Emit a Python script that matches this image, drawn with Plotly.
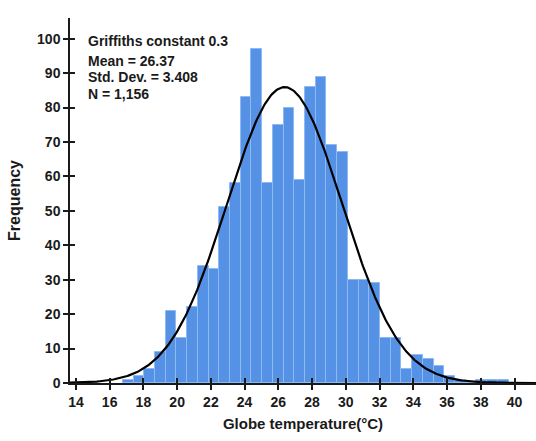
import numpy as np
import plotly.graph_objects as go

# Histogram data
bin_start = 16.78
bin_width = 0.635
counts = [1, 2, 4, 9, 21, 13, 22, 34, 33, 51,
          58, 83, 97, 58, 75, 80, 59, 86, 89, 69,
          67, 30, 30, 29, 13, 13, 4, 8, 7, 5,
          2, 1, 0, 1, 1, 1]

mean_val = 26.37
std_val = 3.408
n_val = 1156

x_ticks = list(range(14, 41, 2))
y_ticks = list(range(0, 101, 10))

centers = [bin_start + (i + 0.5) * bin_width for i in range(len(counts))]

xr = [13.65, 41.27]
yr = [0, 106]

xc = np.linspace(xr[0], xr[1], 400)
yc = n_val * bin_width / (std_val * np.sqrt(2 * np.pi)) * np.exp(-0.5 * ((xc - mean_val) / std_val) ** 2)

FONT = "Arial, Liberation Sans, sans-serif"
INK = "#1a1a1a"

fig = go.Figure()
fig.add_trace(go.Bar(x=centers, y=counts, width=[bin_width] * len(counts),
                     marker=dict(color="#5592e6", line=dict(color="#8dbaf3", width=1)),
                     showlegend=False))
fig.add_trace(go.Scatter(x=xc, y=yc, mode="lines", line=dict(color="black", width=2.2),
                         showlegend=False, cliponaxis=False))
# helper trace so the overlay axes (inner tick halves) render
fig.add_trace(go.Scatter(x=[xr[0]], y=[0], xaxis="x2", yaxis="y2", mode="markers",
                         marker=dict(opacity=0), showlegend=False, hoverinfo="skip"))

fig.update_layout(
    width=536, height=441,
    margin=dict(l=70, r=0, t=18, b=58),
    paper_bgcolor="white", plot_bgcolor="white",
    bargap=0,
    xaxis=dict(range=xr, tickvals=x_ticks, ticks="outside", ticklen=5, tickwidth=1.5,
               tickcolor=INK, showline=True, linecolor=INK, linewidth=1.5,
               showgrid=False, zeroline=False,
               tickfont=dict(family=FONT, size=14, color=INK, weight="bold"),
               title=dict(text="Globe temperature(°C)", standoff=10,
                          font=dict(family=FONT, size=15, color=INK, weight="bold"))),
    yaxis=dict(range=yr, tickvals=y_ticks, ticks="outside", ticklen=5, tickwidth=1.5,
               tickcolor=INK, showline=True, linecolor=INK, linewidth=1.5,
               showgrid=False, zeroline=False,
               tickfont=dict(family=FONT, size=14, color=INK, weight="bold"),
               title=dict(text="Frequency", standoff=12,
                          font=dict(family=FONT, size=16, color=INK, weight="bold"))),
    xaxis2=dict(range=xr, tickvals=x_ticks, ticks="inside", ticklen=5, tickwidth=1.5,
                tickcolor=INK, overlaying="x", anchor="y2", showticklabels=False,
                showline=False, showgrid=False, zeroline=False),
    yaxis2=dict(range=yr, tickvals=y_ticks, ticks="inside", ticklen=5, tickwidth=1.5,
                tickcolor=INK, overlaying="y", anchor="x2", showticklabels=False,
                showline=False, showgrid=False, zeroline=False),
)

ann_font = dict(family=FONT, size=14, color=INK, weight="bold")
lines = [("Griffiths constant 0.3", 0.938),
         ("Mean = 26.37", 0.881),
         ("Std. Dev. = 3.408", 0.837),
         ("N = 1,156", 0.793)]
for txt, yy in lines:
    fig.add_annotation(text=txt, xref="paper", yref="paper", x=0.034, y=yy,
                       xanchor="left", yanchor="middle", showarrow=False, font=ann_font)

fig.write_html("out.html")
